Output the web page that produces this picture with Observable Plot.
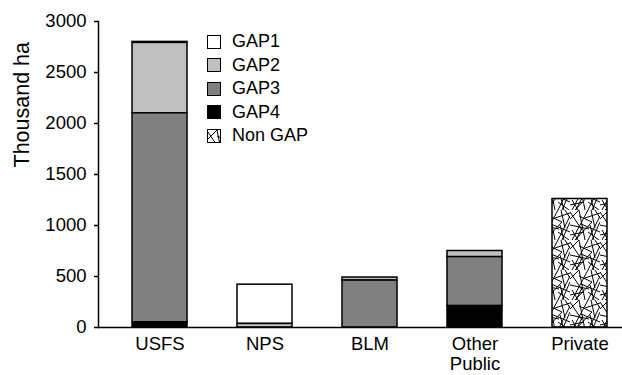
<!DOCTYPE html>
<html>
<head>
<meta charset="utf-8">
<script src="https://cdn.jsdelivr.net/npm/d3@7"></script>
<script src="https://cdn.jsdelivr.net/npm/@observablehq/plot@0.6"></script>
<style>
  body { margin: 0; background: #fff; }
  #wrap { position: relative; width: 622px; height: 375px; font-family: "Liberation Sans", Arial, sans-serif; }
  #wrap svg g[aria-label$="tick label"] { font-size: 18.5px; }
  #legend { position: absolute; left: 207px; top: 30px; }
  .row { display: flex; align-items: center; height: 23.5px; }
  .sw { width: 12px; height: 12px; border: 1.5px solid #000; box-sizing: content-box; margin-right: 11px; overflow: hidden; }
  .lab { font-size: 18px; color: #000; }
</style>
</head>
<body>
<div id="wrap"><div id="legend"></div></div>
<script>
const categories = ["USFS", "NPS", "BLM", "Other Public", "Private"];
const series = ["GAP1", "GAP2", "GAP3", "GAP4", "Non GAP"];
const gap1 = [10, 385, 0, 0, 0];
const gap2 = [690, 35, 30, 60, 0];
const gap3 = [2050, 0, 460, 480, 0];
const gap4 = [50, 0, 0, 210, 0];
const nongap = [0, 0, 0, 0, 1260];
const yTicks = [0, 500, 1000, 1500, 2000, 2500, 3000];

const fills = ["#ffffff", "#c0c0c0", "#808080", "#000000", "url(#nongap)"];
const valuesBySeries = [gap1, gap2, gap3, gap4, nongap];

const rows = [];
series.forEach((s, si) => {
  categories.forEach((c, ci) => {
    const v = valuesBySeries[si][ci];
    if (v > 0) rows.push({category: c, series: s, value: v});
  });
});

const chart = Plot.plot({
  width: 622,
  height: 375,
  marginLeft: 98,
  marginRight: 0,
  marginTop: 21,
  marginBottom: 48,
  style: {fontFamily: '"Liberation Sans", Arial, sans-serif', fontSize: "18px", color: "#000", background: "transparent"},
  x: {domain: categories, range: [80, 660], padding: 0.472, label: null},
  y: {domain: [0, 3000], label: null},
  color: {domain: series, range: fills},
  marks: [
    Plot.barY(rows, Plot.stackY({
      x: "category",
      y: "value",
      fill: "series",
      order: ["GAP4", "GAP3", "GAP2", "GAP1", "Non GAP"],
      stroke: "#000",
      strokeWidth: 1.5
    })),
    Plot.ruleY([0], {stroke: "#000", strokeWidth: 1.5}),
    Plot.axisY({ticks: yTicks, tickSize: 4, tickPadding: 8, fontSize: 18.5, label: null, stroke: "#000", strokeWidth: 1.5, tickFormat: d => String(d)}),
    Plot.axisX({tickSize: 0, tickPadding: 8, fontSize: 18.5, label: null, lineHeight: 1.1,
      tickFormat: d => d === "Other Public" ? "Other\nPublic" : d}),
    Plot.frame({anchor: "left", stroke: "#000", strokeWidth: 1.5}),
    Plot.text(["Thousand ha"], {frameAnchor: "left", rotate: -90, dx: -76, dy: -7, fontSize: 21.5, fill: "#000"})
  ]
});

// pattern for Non GAP (crisscross lines)
const segs = [
  [0,2,12,20],[2,30,18,0],[5,30,22,12],[9,0,15,30],[18,30,30,6],[11,14,30,22],
  [0,15,19,19],[21,0,25,18],[0,9,9,0],[22,30,30,12],[6,30,12,18],[15,8,30,3],
  [2,20,8,30],[18,22,29,30],[9,6,22,12],[25,0,30,8],[0,25,14,22],[20,15,24,30]
];
const defs = d3.select(chart).append("defs");
const pat = defs.append("pattern").attr("id", "nongap").attr("patternUnits", "userSpaceOnUse")
  .attr("width", 30).attr("height", 30);
pat.append("rect").attr("width", 30).attr("height", 30).attr("fill", "#fff");
segs.forEach(s => pat.append("line").attr("x1", s[0]).attr("y1", s[1]).attr("x2", s[2]).attr("y2", s[3])
  .attr("stroke", "#000").attr("stroke-width", 1));

document.getElementById("wrap").prepend(chart);

const legend = d3.select("#legend");
series.forEach((s, i) => {
  const row = legend.append("div").attr("class", "row");
  const sw = row.append("div").attr("class", "sw");
  if (i === 4) {
    sw.append("svg").attr("width", 12).attr("height", 12).style("display", "block")
      .append("rect").attr("width", 12).attr("height", 12).attr("fill", "url(#nongap)");
  } else {
    sw.style("background", fills[i]);
  }
  row.append("span").attr("class", "lab").text(s);
});
</script>
</body>
</html>
